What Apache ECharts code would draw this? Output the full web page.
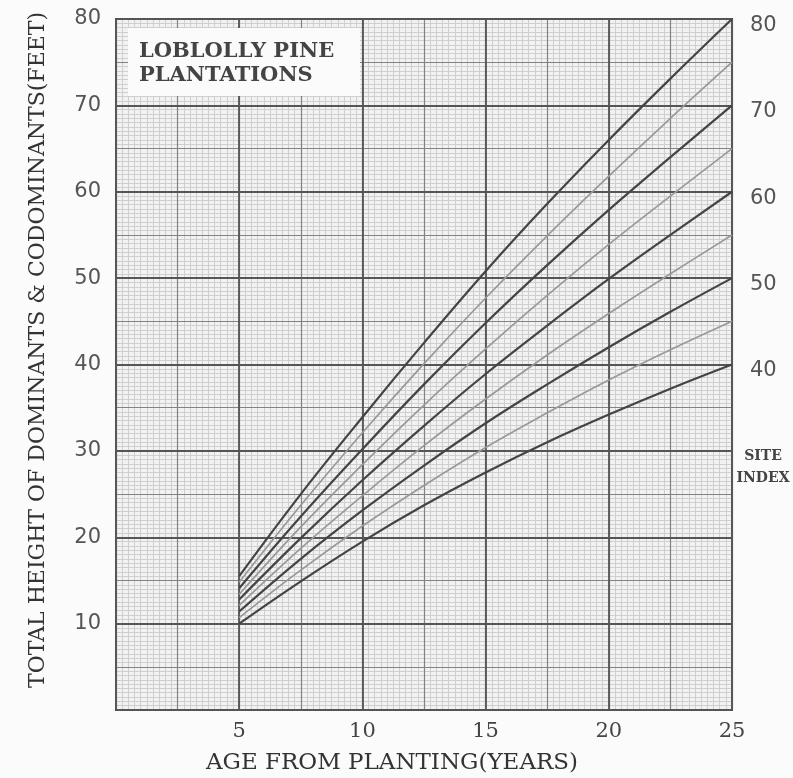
<!DOCTYPE html>
<html>
<head>
<meta charset="utf-8">
<script src="https://cdn.jsdelivr.net/npm/echarts@6/dist/echarts.min.js"></script>
<style>
  html, body { margin: 0; padding: 0; background: #fbfbfb; }
  #chart { width: 793px; height: 778px; }
</style>
</head>
<body>
<div id="chart"></div>
<script>
const ages = [5, 7.5, 10, 12.5, 15, 17.5, 20, 22.5, 25]

// height (feet) per site index curve
const si40 = [10.0, 14.9, 19.5, 23.7, 27.5, 31.0, 34.2, 37.2, 40]
const si45 = [10.7, 16.2, 21.3, 26.0, 30.4, 34.4, 38.2, 41.7, 45]
const si50 = [11.4, 17.5, 23.1, 28.3, 33.2, 37.7, 42.0, 46.1, 50]
const si55 = [12.1, 18.7, 24.8, 30.6, 36.0, 41.1, 45.9, 50.5, 55]
const si60 = [12.8, 19.9, 26.6, 32.9, 38.9, 44.5, 49.9, 55.0, 60]
const si65 = [13.4, 21.2, 28.4, 35.3, 41.8, 48.0, 53.9, 59.5, 65]
const si70 = [14.1, 22.4, 30.2, 37.7, 44.8, 51.5, 57.9, 64.0, 70]
const si75 = [14.8, 23.7, 32.1, 40.1, 47.7, 54.9, 61.8, 68.5, 75]
const si80 = [15.5, 25.0, 33.9, 42.5, 50.8, 58.6, 66.0, 73.1, 80]

const curves = [
  { name: '40', data: si40, dark: true },
  { name: '45', data: si45, dark: false },
  { name: '50', data: si50, dark: true },
  { name: '55', data: si55, dark: false },
  { name: '60', data: si60, dark: true },
  { name: '65', data: si65, dark: false },
  { name: '70', data: si70, dark: true },
  { name: '75', data: si75, dark: false },
  { name: '80', data: si80, dark: true }
]

const rightLabels = [40, 50, 60, 70, 80]

const chart = echarts.init(document.getElementById('chart'))

// hidden axis that only draws grid lines
const gridAxis = (interval, max, color, width, z) => ({
  type: 'value',
  min: 0,
  max: max,
  interval: interval,
  z: z,
  axisLine: { show: false },
  axisTick: { show: false },
  axisLabel: { show: false },
  splitLine: { show: true, lineStyle: { color: color, width: width } }
})

const option = {
  backgroundColor: '#fbfbfb',
  animation: false,
  grid: {
    left: 116,
    right: 61,
    top: 19,
    bottom: 68,
    show: true,
    backgroundColor: '#f2f2f2',
    borderColor: '#4a4a4a',
    borderWidth: 2
  },
  xAxis: [
    {
      type: 'value',
      min: 0,
      max: 25,
      interval: 5,
      z: 3,
      axisLine: { show: false },
      axisTick: { show: false },
      axisLabel: {
        margin: 11,
        fontFamily: 'DejaVu Serif',
        fontSize: 21,
        color: '#444',
        formatter: v => (v === 0 ? '' : v)
      },
      splitLine: { show: true, lineStyle: { color: '#555', width: 1.8 } }
    },
    gridAxis(2.5, 25, '#828282', 1.2, 2),
    gridAxis(0.25, 25, '#cfcfcf', 1, 1)
  ],
  yAxis: [
    {
      type: 'value',
      min: 0,
      max: 80,
      interval: 10,
      z: 3,
      axisLine: { show: false },
      axisTick: { show: false },
      axisLabel: {
        margin: 15,
        fontFamily: 'DejaVu Sans',
        fontSize: 21,
        color: '#555',
        formatter: v => (v === 0 ? '' : v)
      },
      splitLine: { show: true, lineStyle: { color: '#555', width: 1.8 } }
    },
    {
      type: 'value',
      position: 'right',
      min: 0,
      max: 80,
      interval: 10,
      axisLine: { show: false },
      axisTick: { show: false },
      axisLabel: {
        margin: 18,
        verticalAlign: 'top',
        lineHeight: 13,
        fontFamily: 'DejaVu Sans',
        fontSize: 21,
        color: '#555',
        formatter: v => (rightLabels.includes(v) ? v : '')
      },
      splitLine: { show: false }
    },
    gridAxis(5, 80, '#828282', 1.2, 2),
    gridAxis(0.5, 80, '#cfcfcf', 1, 1)
  ],
  graphic: [
    {
      type: 'rect',
      shape: { x: 128, y: 28, width: 232, height: 68 },
      style: { fill: '#fbfbfb' },
      z: 10
    },
    {
      type: 'text',
      x: 139,
      y: 40,
      z: 11,
      style: {
        text: 'LOBLOLLY PINE\nPLANTATIONS',
        fontFamily: 'DejaVu Serif',
        fontWeight: 'bold',
        fontSize: 21,
        lineHeight: 24,
        fill: '#444'
      }
    },
    {
      type: 'text',
      x: 763,
      y: 445,
      z: 11,
      style: {
        text: 'SITE\nINDEX',
        align: 'center',
        fontFamily: 'DejaVu Serif',
        fontWeight: 'bold',
        fontSize: 14,
        lineHeight: 22,
        fill: '#444'
      }
    },
    {
      type: 'text',
      x: 392,
      y: 763,
      z: 11,
      style: {
        text: 'AGE FROM PLANTING(YEARS)',
        align: 'center',
        verticalAlign: 'middle',
        fontFamily: 'DejaVu Serif',
        fontSize: 23,
        fill: '#333'
      }
    },
    {
      type: 'text',
      x: 38,
      y: 350,
      rotation: Math.PI / 2,
      z: 11,
      style: {
        text: 'TOTAL HEIGHT OF DOMINANTS & CODOMINANTS(FEET)',
        align: 'center',
        verticalAlign: 'middle',
        fontFamily: 'DejaVu Serif',
        fontSize: 22,
        fill: '#333'
      }
    }
  ],
  series: curves.map(c => ({
    name: c.name,
    type: 'line',
    xAxisIndex: 0,
    yAxisIndex: 0,
    z: 5,
    smooth: 0.4,
    showSymbol: false,
    data: ages.map((a, i) => [a, c.data[i]]),
    lineStyle: {
      color: c.dark ? '#444' : '#999',
      width: c.dark ? 2.2 : 1.7
    }
  }))
}

chart.setOption(option)
</script>
</body>
</html>
